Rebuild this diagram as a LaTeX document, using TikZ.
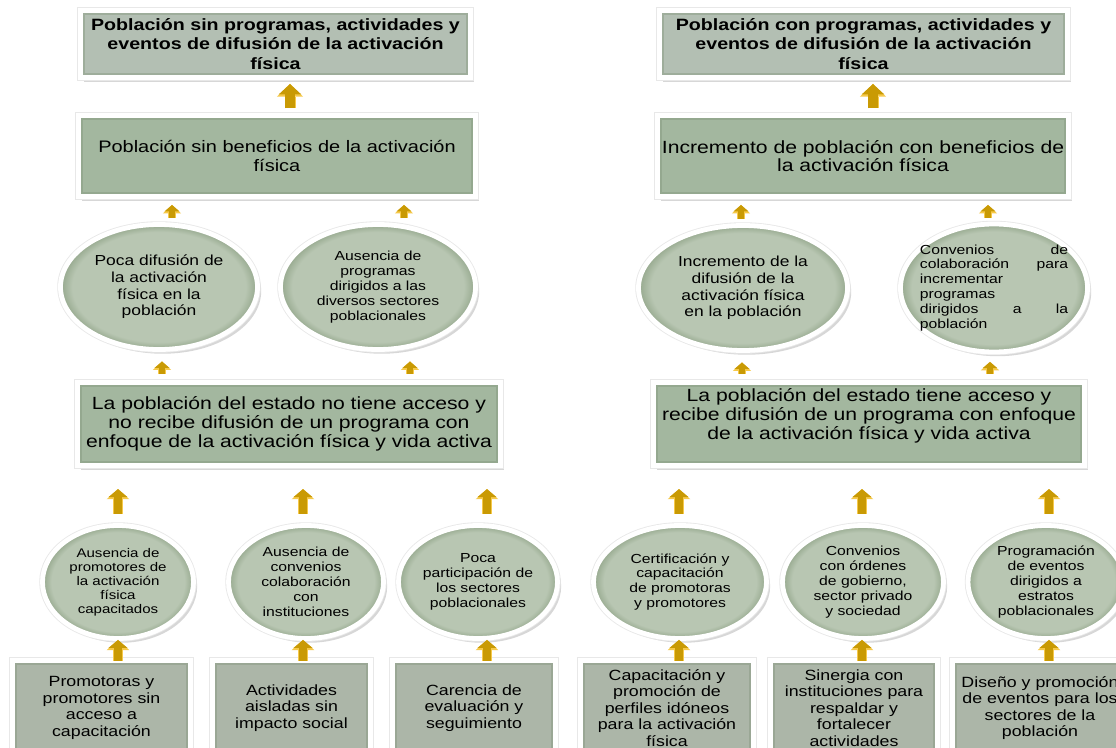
\documentclass[tikz,border=0pt]{standalone}
\usepackage{fontspec}
\setmainfont{Liberation Sans}[FakeStretch=1.2]
\usetikzlibrary{shapes.geometric,shadows,calc,arrows.meta}
\newcommand\pxu{0.709pt}
\definecolor{topc}{HTML}{B3BFB3}
\definecolor{midc}{HTML}{A3B79F}
\definecolor{botc}{HTML}{ACB6A8}
\definecolor{ellc}{HTML}{B8C6B2}
\definecolor{elld}{HTML}{94A78C}
\definecolor{rimc}{HTML}{7F9279}
\definecolor{goldc}{HTML}{C99A04}
\definecolor{goldl}{HTML}{F6C94A}
\pgfdeclareradialshading{ellbev}{\pgfpoint{0bp}{0bp}}{color(0bp)=(ellc); color(22bp)=(ellc); color(25bp)=(elld); color(50bp)=(elld)}
\tikzset{
  sz/.style 2 args={minimum width=#1*\pxu, minimum height=#2*\pxu},
  frame/.style={draw=white, line width=3.4pt,
    drop shadow={shadow xshift=2.6pt, shadow yshift=-3pt, opacity=.22, fill=black!70},
    preaction={draw=black!9, line width=4.6pt}},
  boxbase/.style={rectangle, frame, inner sep=0pt, outer sep=0pt, align=center,
    path picture={\draw[rimc, line width=6pt, opacity=.4] (path picture bounding box.south west) rectangle (path picture bounding box.north east);}},
  topbox/.style={boxbase, fill=topc, font=\bfseries\fontsize{11.6pt}{13.8pt}\selectfont},
  midbox/.style={boxbase, fill=midc, font=\fontsize{12.5pt}{13.3pt}\selectfont},
  botbox/.style={boxbase, fill=botc, font=\fontsize{10.5pt}{11.7pt}\selectfont},
  ellbase/.style={ellipse, shade, shading=ellbev, frame, inner sep=0pt, outer sep=0pt, align=center},
  ellbig/.style={ellbase, font=\fontsize{10.3pt}{11.8pt}\selectfont},
  ellsm/.style={ellbase, font=\fontsize{9.3pt}{10.6pt}\selectfont},
  abig/.style={draw=goldc, line width=6.4pt, -{Triangle[width=16pt,length=7.4pt,line width=0pt]},
    preaction={draw=goldl, line width=7.8pt, -{Triangle[width=18.6pt,length=9pt,line width=0pt]}}},
  amid/.style={draw=goldc, line width=5.2pt, -{Triangle[width=13.5pt,length=5.7pt,line width=0pt]},
    preaction={draw=goldl, line width=6.6pt, -{Triangle[width=16pt,length=7.2pt,line width=0pt]}}},
  asmall/.style={draw=goldc, line width=4.2pt, -{Triangle[width=10.5pt,length=4.5pt,line width=0pt]},
    preaction={draw=goldl, line width=5.6pt, -{Triangle[width=13pt,length=6pt,line width=0pt]}}},
}
\begin{document}
\begin{tikzpicture}[x=0.709pt,y=-0.709pt]
\useasboundingbox (0,0) rectangle (1116,748);
\fill[white] (0,0) rectangle (1116,748);

% top row
\node[topbox, sz={390}{67}] (t1) at (275.5,44) {Población sin programas, actividades y\\ eventos de difusión de la activación\\ física};
\node[topbox, sz={408}{67}] (t2) at (863.5,44) {Población con programas, actividades y\\ eventos de difusión de la activación\\ física};

% second row
\node[midbox, sz={397}{81}, font=\fontsize{11.8pt}{13.4pt}\selectfont] (b1) at (277,156) {Población sin beneficios de la activación\\ física};
\node[midbox, sz={411}{81}] (b2) at (863,156) {Incremento de población con beneficios de\\ la activación física};

% upper ellipses
\node[ellbig, sz={197}{125}] (el1) at (159,287) {Poca difusión de\\ la activación\\ física en la\\ población};
\node[ellsm, sz={195}{125}] (el2) at (378,287) {Ausencia de\\ programas\\ dirigidos a las\\ diversos sectores\\ poblacionales};
\node[ellbig, sz={209}{125}] (er1) at (743,288) {Incremento de la\\ difusión de la\\ activación física\\ en la población};
\node[ellsm, sz={187}{128}, align=left, text width=105pt, inner xsep=-7pt] (er2) at (994,288)
  {Convenios\hfill de\\ colaboración\hfill para\\ incrementar\\ programas\\ dirigidos\hfill a\hfill la\\ población};

% middle boxes
\node[midbox, sz={423}{83}] (m1) at (289,424) {La población del estado no tiene acceso y\\ no recibe difusión de un programa con\\ enfoque de la activación física y vida activa};
\node[midbox, sz={431}{83}, label={[font=\fontsize{12.5pt}{13.3pt}\selectfont, align=center, yshift=5.7pt]center:La población del estado tiene acceso y\\ recibe difusión de un programa con enfoque\\ de la activación física y vida activa}] (m2) at (869,424) {};

% lower ellipses
\node[ellsm, sz={151}{113}, font=\fontsize{8.9pt}{9.9pt}\selectfont] (be1) at (118,582) {Ausencia de\\ promotores de\\ la activación\\ física\\ capacitados};
\node[ellsm, sz={155}{113}] (be2) at (306,582) {Ausencia de\\ convenios\\ colaboración\\ con\\ instituciones};
\node[ellsm, sz={159}{113}] (be3) at (478,582) {Poca\\ participación de\\ los sectores\\ poblacionales};
\node[ellsm, sz={173}{113}] (be4) at (680,582) {Certificación y\\ capacitación\\ de promotoras\\ y promotores};
\node[ellsm, sz={161}{113}] (be5) at (863,582) {Convenios\\ con órdenes\\ de gobierno,\\ sector privado\\ y sociedad};
\node[ellsm, sz={156}{113}] (be6) at (1046,582) {Programación\\ de eventos\\ dirigidos a\\ estratos\\ poblacionales};

% bottom boxes
\node[botbox, sz={178}{95}] (bb1) at (101.5,708) {Promotoras y\\ promotores sin\\ acceso a\\ capacitación};
\node[botbox, sz={158}{95}] (bb2) at (291.5,708) {Actividades\\ aisladas sin\\ impacto social};
\node[botbox, sz={163}{95}] (bb3) at (474,708) {Carencia de\\ evaluación y\\ seguimiento};
\node[botbox, sz={173}{95}] (bb4) at (667,708) {Capacitación y\\ promoción de\\ perfiles idóneos\\ para la activación\\ física};
\node[botbox, sz={167}{95}] (bb5) at (854,708) {Sinergia con\\ instituciones para\\ respaldar y\\ fortalecer\\ actividades};
\node[botbox, sz={175}{95}] (bb6) at (1040,708) {Diseño y promoción\\ de eventos para los\\ sectores de la\\ población};

% arrows: second row -> top row
\draw[abig, shorten <=5.3pt, shorten >=4.6pt] ($(b1.north)+(13,0)$) -- ($(b1.north |- t1.south)+(13,0)$);
\draw[abig, shorten <=5.3pt, shorten >=4.6pt] ($(b2.north)+(10,0)$) -- ($(b2.north |- t2.south)+(10,0)$);

% upper ellipses -> second row
\draw[asmall, shorten <=4.6pt, shorten >=6pt] ($(el1.north)+(13,0)$) -- ($(el1.north |- b1.south)+(13,0)$);
\draw[asmall, shorten <=4.6pt, shorten >=6pt] ($(el2.north)+(26,0)$) -- ($(el2.north |- b1.south)+(26,0)$);
\draw[asmall, shorten <=4.6pt, shorten >=6pt] ($(er1.north)+(-2,0)$) -- ($(er1.north |- b2.south)+(-2,0)$);
\draw[asmall, shorten <=4.6pt, shorten >=6pt] ($(er2.north)+(-6,0)$) -- ($(er2.north |- b2.south)+(-6,0)$);

% middle boxes -> upper ellipses
\draw[asmall, shorten <=6pt, shorten >=8.5pt] ($(el1.south |- m1.north)+(3,0)$) -- ($(el1.south)+(3,0)$);
\draw[asmall, shorten <=6pt, shorten >=8.5pt] ($(el2.south |- m1.north)+(32,0)$) -- ($(el2.south)+(32,0)$);
\draw[asmall, shorten <=6pt, shorten >=8.5pt] ($(er1.south |- m2.north)+(-1,0)$) -- ($(er1.south)+(-1,0)$);
\draw[asmall, shorten <=6pt, shorten >=7pt] ($(er2.south |- m2.north)+(-4,0)$) -- ($(er2.south)+(-4,0)$);

% lower ellipses -> middle boxes
\draw[amid, shorten <=8.2pt, shorten >=16.7pt] (be1.north) -- (be1.north |- m1.south);
\draw[amid, shorten <=8.2pt, shorten >=16.7pt] ($(be2.north)+(-3,0)$) -- ($(be2.north |- m1.south)+(-3,0)$);
\draw[amid, shorten <=8.2pt, shorten >=16.7pt] ($(be3.north)+(9,0)$) -- ($(be3.north |- m1.south)+(9,0)$);
\draw[amid, shorten <=8.2pt, shorten >=16.7pt] ($(be4.north)+(-1,0)$) -- ($(be4.north |- m2.south)+(-1,0)$);
\draw[amid, shorten <=8.2pt, shorten >=16.7pt] ($(be5.north)+(-1,0)$) -- ($(be5.north |- m2.south)+(-1,0)$);
\draw[amid, shorten <=8.2pt, shorten >=16.7pt] ($(be6.north)+(3,0)$) -- ($(be6.north |- m2.south)+(3,0)$);

% bottom boxes -> lower ellipses
\draw[amid, shorten <=0pt, shorten >=1pt] (be1.south |- bb1.north) -- (be1.south);
\draw[amid, shorten <=0pt, shorten >=1pt] ($(be2.south |- bb2.north)+(-3,0)$) -- ($(be2.south)+(-3,0)$);
\draw[amid, shorten <=0pt, shorten >=1pt] ($(be3.south |- bb3.north)+(9,0)$) -- ($(be3.south)+(9,0)$);
\draw[amid, shorten <=0pt, shorten >=1pt] ($(be4.south |- bb4.north)+(-1,0)$) -- ($(be4.south)+(-1,0)$);
\draw[amid, shorten <=0pt, shorten >=1pt] ($(be5.south |- bb5.north)+(-1,0)$) -- ($(be5.south)+(-1,0)$);
\draw[amid, shorten <=0pt, shorten >=1pt] ($(be6.south |- bb6.north)+(3,0)$) -- ($(be6.south)+(3,0)$);
\end{tikzpicture}
\end{document}
